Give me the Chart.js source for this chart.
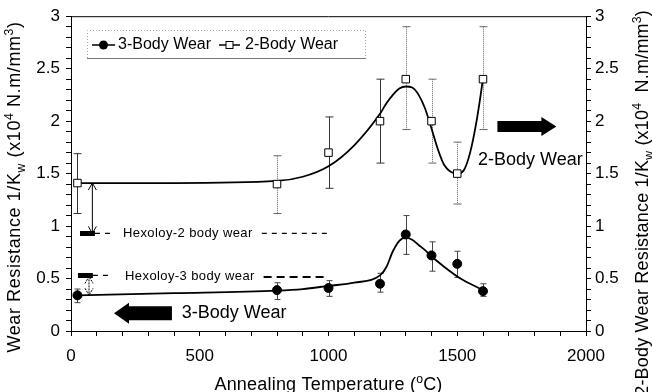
<!DOCTYPE html>
<html>
<head>
<meta charset="utf-8">
<script src="https://cdn.jsdelivr.net/npm/chart.js@4.4.0/dist/chart.umd.min.js"></script>
<style>
  html, body { margin: 0; padding: 0; background: #fff; }
  #wrap { width: 652px; height: 392px; }
</style>
</head>
<body>
<div id="wrap"><canvas id="chart"></canvas></div>
<script>
// measured points (annealing temperature, deg C)
var temps = [25, 800, 1000, 1200, 1300, 1400, 1500, 1600];

var threeBody     = [0.34, 0.39, 0.41, 0.45, 0.92, 0.72, 0.64, 0.38];
var threeBodyLow  = [0.27, 0.30, 0.33, 0.37, 0.73, 0.57, 0.51, 0.33];
var threeBodyHigh = [0.40, 0.46, 0.48, 0.55, 1.10, 0.85, 0.76, 0.45];

var twoBody     = [1.41, 1.40, 1.70, 2.00, 2.40, 2.00, 1.50, 2.40];
var twoBodyLow  = [1.12, 1.12, 1.36, 1.60, 1.92, 1.60, 1.21, 1.92];
var twoBodyHigh = [1.69, 1.67, 2.04, 2.40, 2.90, 2.40, 1.80, 2.90];

// smoothed trend lines
var threeFitT = [25, 400, 800, 900, 1000, 1100, 1200, 1225, 1250, 1275, 1300, 1325, 1350, 1375, 1400, 1425, 1450, 1500, 1550, 1600];
var threeFit  = [0.34, 0.36, 0.385, 0.40, 0.43, 0.46, 0.53, 0.61, 0.76, 0.86, 0.89, 0.87, 0.82, 0.77, 0.71, 0.66, 0.61, 0.52, 0.45, 0.39];
var twoFitT = [25, 400, 800, 900, 1000, 1100, 1200, 1225, 1250, 1275, 1300, 1325, 1350, 1375, 1400, 1425, 1450, 1500, 1525, 1550, 1575, 1600];
var twoFit  = [1.41, 1.41, 1.43, 1.47, 1.57, 1.77, 2.07, 2.17, 2.25, 2.31, 2.33, 2.32, 2.25, 2.12, 1.93, 1.73, 1.58, 1.50, 1.53, 1.70, 2.00, 2.40];

// hexoloy reference levels
var hexoloy2 = 0.93;
var hexoloy3 = 0.53;

var xTickStep = 100, xLabelStep = 500;
var yTickStep = 0.1;

var FONT = "'Liberation Sans', Arial, Helvetica, sans-serif";
var dottedTwo = [false, true, false, false, true, true, true, true];

function pts(xs, ys) {
    return xs.map(function(x, i) { return {x: x, y: ys[i]}; });
}

function yLabel(v) {
    var r = Math.round(v * 10);
    return r % 5 === 0 ? String(r / 10) : '';
}

// rich text with sub / superscripts, drawn from x along the baseline
function richWidth(ctx, parts, size) {
    var w = 0;
    parts.forEach(function(p) {
        var s = p[1] ? size * 0.68 : size;
        ctx.font = s + 'px ' + FONT;
        w += ctx.measureText(p[0]).width;
    });
    return w;
}
function drawRich(ctx, parts, x, y, size) {
    parts.forEach(function(p) {
        var s = p[1] ? size * 0.68 : size;
        var dy = p[1] === 'sub' ? size * 0.25 : (p[1] === 'sup' ? -size * 0.4 : 0);
        ctx.font = s + 'px ' + FONT;
        ctx.fillText(p[0], x, y + dy);
        x += ctx.measureText(p[0]).width;
    });
}

function bigArrow(ctx, tipX, tailX, yc, shaftH, headH, headL) {
    var dir = tailX > tipX ? 1 : -1;
    ctx.beginPath();
    ctx.moveTo(tipX, yc);
    ctx.lineTo(tipX + dir * headL, yc - headH);
    ctx.lineTo(tipX + dir * headL, yc - shaftH);
    ctx.lineTo(tailX, yc - shaftH);
    ctx.lineTo(tailX, yc + shaftH);
    ctx.lineTo(tipX + dir * headL, yc + shaftH);
    ctx.lineTo(tipX + dir * headL, yc + headH);
    ctx.closePath();
    ctx.fill();
}

function doubleArrow(ctx, x, y1, y2) {
    ctx.beginPath();
    ctx.moveTo(x, y1); ctx.lineTo(x, y2);
    ctx.moveTo(x - 4, y1 + 7); ctx.lineTo(x, y1); ctx.lineTo(x + 4, y1 + 7);
    ctx.moveTo(x - 4, y2 - 7); ctx.lineTo(x, y2); ctx.lineTo(x + 4, y2 - 7);
    ctx.stroke();
}

var decor = {
    id: 'decor',
    beforeDatasetsDraw: function(chart) {
        var ctx = chart.ctx, xs = chart.scales.x, ys = chart.scales.y;
        ctx.save();
        ctx.lineWidth = 1;
        temps.forEach(function(t, i) {
            var px = Math.round(xs.getPixelForValue(t)) + 0.5;
            // 2-body
            ctx.strokeStyle = dottedTwo[i] ? '#666' : '#333';
            ctx.setLineDash(dottedTwo[i] ? [1, 1] : []);
            var a = ys.getPixelForValue(twoBodyHigh[i]), b = ys.getPixelForValue(twoBodyLow[i]);
            ctx.beginPath();
            ctx.moveTo(px, a); ctx.lineTo(px, b);
            ctx.stroke();
            ctx.setLineDash([]);
            ctx.beginPath();
            ctx.moveTo(px - 4, a); ctx.lineTo(px + 4, a);
            ctx.moveTo(px - 4, b); ctx.lineTo(px + 4, b);
            ctx.stroke();
            // 3-body
            ctx.strokeStyle = '#444';
            a = ys.getPixelForValue(threeBodyHigh[i]); b = ys.getPixelForValue(threeBodyLow[i]);
            ctx.beginPath();
            ctx.moveTo(px, a); ctx.lineTo(px, b);
            ctx.moveTo(px - 3, a); ctx.lineTo(px + 3, a);
            ctx.moveTo(px - 3, b); ctx.lineTo(px + 3, b);
            ctx.stroke();
        });
        ctx.restore();
    },
    afterDraw: function(chart) {
        var ctx = chart.ctx, xs = chart.scales.x, ys = chart.scales.y, ca = chart.chartArea;
        var X = function(v) { return xs.getPixelForValue(v); };
        var Y = function(v) { return ys.getPixelForValue(v); };
        ctx.save();
        ctx.fillStyle = '#000';
        ctx.strokeStyle = '#000';

        // top frame line
        ctx.lineWidth = 1;
        ctx.beginPath();
        ctx.moveTo(ca.left, ca.top + 0.5); ctx.lineTo(ca.right, ca.top + 0.5);
        ctx.stroke();

        // legend box
        ctx.strokeStyle = '#aaa';
        ctx.setLineDash([1, 2]);
        ctx.beginPath();
        ctx.moveTo(87.5, 58); ctx.lineTo(87.5, 30.5); ctx.lineTo(365.5, 30.5); ctx.lineTo(365.5, 58);
        ctx.stroke();
        ctx.setLineDash([]);
        ctx.strokeStyle = '#777';
        ctx.beginPath();
        ctx.moveTo(87, 58.5); ctx.lineTo(366, 58.5);
        ctx.stroke();
        ctx.strokeStyle = '#000';
        ctx.lineWidth = 1.5;
        ctx.beginPath();
        ctx.moveTo(92, 45); ctx.lineTo(115, 45);
        ctx.moveTo(219, 45); ctx.lineTo(240, 45);
        ctx.stroke();
        ctx.beginPath();
        ctx.arc(103.5, 45, 4.5, 0, Math.PI * 2);
        ctx.fill();
        ctx.fillStyle = '#fff';
        ctx.fillRect(226, 41.5, 7, 7);
        ctx.lineWidth = 1;
        ctx.strokeRect(226, 41.5, 7, 7);
        ctx.fillStyle = '#000';
        ctx.font = '16px ' + FONT;
        ctx.textBaseline = 'middle';
        ctx.textAlign = 'left';
        ctx.fillText('3-Body Wear', 118, 45);
        ctx.fillText('2-Body Wear', 245, 45);

        // hexoloy reference bars, dashes and labels
        ctx.lineWidth = 5;
        ctx.beginPath();
        ctx.moveTo(X(35), Y(hexoloy2)); ctx.lineTo(X(93), Y(hexoloy2));
        ctx.moveTo(X(27), Y(hexoloy3)); ctx.lineTo(X(85), Y(hexoloy3));
        ctx.stroke();
        ctx.lineWidth = 1.2;
        ctx.setLineDash([5, 5]);
        ctx.beginPath();
        ctx.moveTo(X(93), Y(hexoloy2)); ctx.lineTo(X(160), Y(hexoloy2));
        ctx.moveTo(X(741), Y(hexoloy2)); ctx.lineTo(X(995), Y(hexoloy2));
        ctx.moveTo(X(85), Y(hexoloy3)); ctx.lineTo(X(160), Y(hexoloy3));
        ctx.stroke();
        ctx.lineWidth = 2;
        ctx.setLineDash([8, 5]);
        ctx.beginPath();
        ctx.moveTo(X(748), Y(0.515)); ctx.lineTo(X(1000), Y(0.515));
        ctx.stroke();
        ctx.setLineDash([]);
        ctx.font = '13px ' + FONT;
        ctx.letterSpacing = '0.4px';
        ctx.fillText('Hexoloy-2 body wear', X(202), Y(hexoloy2));
        ctx.fillText('Hexoloy-3 body wear', X(210), Y(0.52));
        ctx.letterSpacing = '0px';

        // double arrows from the 25 C values to the hexoloy levels
        ctx.lineWidth = 1;
        doubleArrow(ctx, X(83), Y(twoFit[0]), Y(hexoloy2));
        ctx.setLineDash([2, 1]);
        doubleArrow(ctx, X(70), Y(hexoloy3 - 0.01), Y(threeFit[0]));
        ctx.setLineDash([]);

        // direction arrows with captions
        bigArrow(ctx, X(167), X(392), Y(0.17), 7, 10.5, 15);
        bigArrow(ctx, X(1885), X(1656), Y(1.95), 5.5, 9.5, 15);
        ctx.font = '18px ' + FONT;
        ctx.fillText('3-Body Wear', X(430), Y(0.17));
        ctx.fillText('2-Body Wear', 478, Y(1.63));

        // axis titles
        var size = 18;
        ctx.textBaseline = 'alphabetic';
        ctx.letterSpacing = '0.6px';
        var left = [['Wear Resistance 1/K'], ['w', 'sub'], [' (x10'], ['4', 'sup'], [' N.m/mm'], ['3', 'sup'], [')']];
        var w = richWidth(ctx, left, size);
        ctx.save();
        ctx.translate(20, 187);
        ctx.rotate(-Math.PI / 2);
        drawRich(ctx, left, -w / 2, 0, size);
        ctx.restore();

        ctx.letterSpacing = '0.2px';
        var right = [['2-Body Wear Resistance 1/K'], ['w', 'sub'], [' (x10'], ['4', 'sup'], ['  N.m/mm'], ['3', 'sup'], [')']];
        w = richWidth(ctx, right, size);
        ctx.save();
        ctx.translate(648, 10);
        ctx.rotate(-Math.PI / 2);
        drawRich(ctx, right, -w, 0, size);
        ctx.restore();

        ctx.letterSpacing = '0.2px';
        var bottom = [['Annealing Temperature ('], ['o', 'sup'], ['C)']];
        w = richWidth(ctx, bottom, size);
        drawRich(ctx, bottom, (ca.left + ca.right) / 2 - w / 2, 390, size);
        ctx.letterSpacing = '0px';

        ctx.restore();
    }
};

var tickFont = { family: FONT, size: 17 };

new Chart(document.getElementById('chart'), {
    type: 'scatter',
    data: {
        datasets: [
            {
                label: '3-Body Wear',
                data: pts(temps, threeBody),
                pointStyle: 'circle',
                pointRadius: 4.5,
                backgroundColor: '#000',
                borderColor: '#000',
                showLine: false,
                order: 0
            },
            {
                label: '2-Body Wear',
                data: pts(temps, twoBody),
                pointStyle: 'rect',
                pointRadius: 5.3,
                backgroundColor: '#fff',
                borderColor: '#000',
                borderWidth: 1,
                showLine: false,
                order: 0
            },
            {
                label: '3-Body fit',
                data: pts(threeFitT, threeFit),
                showLine: true,
                pointRadius: 0,
                borderColor: '#000',
                borderWidth: 1.8,
                cubicInterpolationMode: 'monotone',
                order: 1
            },
            {
                label: '2-Body fit',
                data: pts(twoFitT, twoFit),
                showLine: true,
                pointRadius: 0,
                borderColor: '#000',
                borderWidth: 1.8,
                cubicInterpolationMode: 'monotone',
                order: 1
            }
        ]
    },
    options: {
        responsive: true,
        maintainAspectRatio: false,
        animation: false,
        layout: { padding: { top: 15, left: 0, right: 0, bottom: 0 } },
        plugins: {
            legend: { display: false },
            tooltip: { enabled: false }
        },
        scales: {
            x: {
                type: 'linear',
                min: 0, max: 2000,
                border: { color: '#000', width: 1 },
                grid: { drawOnChartArea: false, tickLength: 5, color: '#000' },
                ticks: {
                    stepSize: xTickStep,
                    autoSkip: false,
                    maxRotation: 0,
                    padding: 10,
                    color: '#000',
                    font: tickFont,
                    callback: function(v) { return v % xLabelStep === 0 ? String(v) : ''; }
                },
                afterFit: function(s) { s.height = 61; }
            },
            y: {
                position: 'left',
                min: 0, max: 3,
                border: { color: '#000', width: 1 },
                grid: { drawOnChartArea: false, tickLength: 5, color: '#000' },
                ticks: {
                    stepSize: yTickStep,
                    autoSkip: false,
                    padding: 6,
                    color: '#000',
                    font: tickFont,
                    callback: yLabel
                },
                afterFit: function(s) { s.width = 71; }
            },
            y2: {
                position: 'right',
                min: 0, max: 3,
                border: { color: '#000', width: 1 },
                grid: { drawOnChartArea: false, tickLength: 5, color: '#000' },
                ticks: {
                    stepSize: yTickStep,
                    autoSkip: false,
                    padding: 4,
                    color: '#000',
                    font: tickFont,
                    callback: yLabel
                },
                afterFit: function(s) { s.width = 66; }
            }
        }
    },
    plugins: [decor]
});
</script>
</body>
</html>
